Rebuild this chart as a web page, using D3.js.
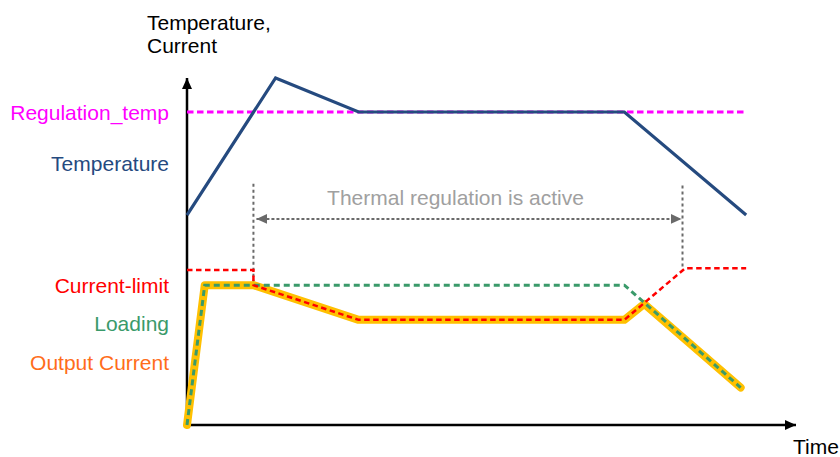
<!DOCTYPE html>
<html>
<head>
<meta charset="utf-8">
<script src="https://cdn.jsdelivr.net/npm/d3@7"></script>
<style>
  html, body { margin: 0; padding: 0; background: #fff; }
  svg { display: block; font-family: "Liberation Sans", Arial, sans-serif; }
</style>
</head>
<body>
<svg id="chart" width="840" height="457"></svg>
<script>
// ---- data (arbitrary units: time 0..110, level 0..100) ----
const tempT = [0, 16, 31, 79, 101];
const tempV = [60.5, 100, 90.2, 90.2, 60.5];

const regT = [0, 101];
const regV = [90.2, 90.2];

const limitT = [0, 12, 12, 31, 79, 90, 101];
const limitV = [44.7, 44.7, 40.3, 30.3, 30.3, 45.2, 45.2];

const loadT = [0, 3.2, 79, 100];
const loadV = [0, 40.3, 40.3, 10.8];

const outT = [0, 3.2, 12, 31, 79, 82.6, 100];
const outV = [0, 40.3, 40.3, 30.3, 30.3, 34.9, 10.8];

const activeStart = 12, activeEnd = 89.5;

const labels = [
  { text: "Regulation_temp", color: "#ff00ff", v: 90.2 },
  { text: "Temperature", color: "#254a7f", v: 75.5 },
  { text: "Current-limit", color: "#ff0000", v: 40.3 },
  { text: "Loading", color: "#3a9a6a", v: 29.3 },
  { text: "Output Current", color: "#ff6d1a", v: 18.2 }
];

// ---- scales ----
const svg = d3.select("#chart");
const x = d3.scaleLinear().domain([0, 110]).range([187, 796]);
const y = d3.scaleLinear().domain([0, 100]).range([425, 78]);

const pts = (ts, vs) => ts.map((t, i) => [x(t), y(vs[i])]);
const line = d3.line();

// arrow markers
const defs = svg.append("defs");
function marker(id, color, w, h, orient) {
  defs.append("marker")
    .attr("id", id).attr("viewBox", `0 0 ${w} ${h}`)
    .attr("refX", w).attr("refY", h / 2)
    .attr("markerWidth", w).attr("markerHeight", h)
    .attr("markerUnits", "userSpaceOnUse")
    .attr("orient", orient)
    .append("path").attr("d", `M0,0L${w},${h / 2}L0,${h}Z`).attr("fill", color);
}
marker("axArrow", "#000", 11, 10, "auto");
marker("grayArrow", "#6a6a6a", 11, 10, "auto-start-reverse");

// axes
svg.append("line")
  .attr("x1", x(0)).attr("y1", y(0)).attr("x2", x(0)).attr("y2", y(100))
  .attr("stroke", "#000").attr("stroke-width", 2.5).attr("marker-end", "url(#axArrow)");
svg.append("line")
  .attr("x1", x(0) - 1).attr("y1", y(0)).attr("x2", x(110)).attr("y2", y(0))
  .attr("stroke", "#000").attr("stroke-width", 2.5).attr("marker-end", "url(#axArrow)");

// annotation: thermal regulation active
svg.append("line")
  .attr("x1", x(activeStart)).attr("x2", x(activeStart))
  .attr("y1", y(69.5)).attr("y2", y(40.3))
  .attr("stroke", "#6a6a6a").attr("stroke-width", 2).attr("stroke-dasharray", "3,3");
svg.append("line")
  .attr("x1", x(activeEnd)).attr("x2", x(activeEnd))
  .attr("y1", y(69)).attr("y2", y(45.2))
  .attr("stroke", "#6a6a6a").attr("stroke-width", 2).attr("stroke-dasharray", "3,3");
svg.append("line")
  .attr("x1", x(activeStart) + 3).attr("x2", x(activeEnd) - 1)
  .attr("y1", y(59.4)).attr("y2", y(59.4))
  .attr("stroke", "#6a6a6a").attr("stroke-width", 2).attr("stroke-dasharray", "3,2")
  .attr("marker-start", "url(#grayArrow)").attr("marker-end", "url(#grayArrow)");
svg.append("text")
  .attr("x", 455.5).attr("y", 205)
  .attr("text-anchor", "middle").attr("font-size", 21).attr("fill", "#a0a0a0")
  .text("Thermal regulation is active");

// regulation temp
svg.append("path").attr("d", line(pts(regT, regV)))
  .attr("fill", "none").attr("stroke", "#ff00ff").attr("stroke-width", 3)
  .attr("stroke-dasharray", "6.5,3.5");

// temperature
svg.append("path").attr("d", line(pts(tempT, tempV)))
  .attr("fill", "none").attr("stroke", "#254a7f").attr("stroke-width", 3.2)
  .attr("stroke-linejoin", "miter");

// output current (thick yellow)
svg.append("path").attr("d", line(pts(outT, outV)))
  .attr("fill", "none").attr("stroke", "#ffc000").attr("stroke-width", 8)
  .attr("stroke-linejoin", "round").attr("stroke-linecap", "round");

// loading (green dashed)
svg.append("path").attr("d", line(pts(loadT, loadV)))
  .attr("fill", "none").attr("stroke", "#3a9a6a").attr("stroke-width", 3)
  .attr("stroke-dasharray", "6,4");

// current limit (red dashed)
svg.append("path").attr("d", line(pts(limitT, limitV)))
  .attr("fill", "none").attr("stroke", "#ff0000").attr("stroke-width", 2.5)
  .attr("stroke-dasharray", "5.5,3.5");

// series labels
svg.selectAll("text.lbl").data(labels).enter().append("text")
  .attr("class", "lbl")
  .attr("x", 169).attr("y", d => y(d.v) + 8)
  .attr("text-anchor", "end").attr("font-size", 21)
  .attr("fill", d => d.color).text(d => d.text);

// axis titles
svg.append("text").attr("x", 147).attr("y", 30).attr("font-size", 21).attr("fill", "#000").text("Temperature,");
svg.append("text").attr("x", 147).attr("y", 53).attr("font-size", 21).attr("fill", "#000").text("Current");
svg.append("text").attr("x", 793).attr("y", 454).attr("font-size", 21).attr("fill", "#000").text("Time");
</script>
</body>
</html>
